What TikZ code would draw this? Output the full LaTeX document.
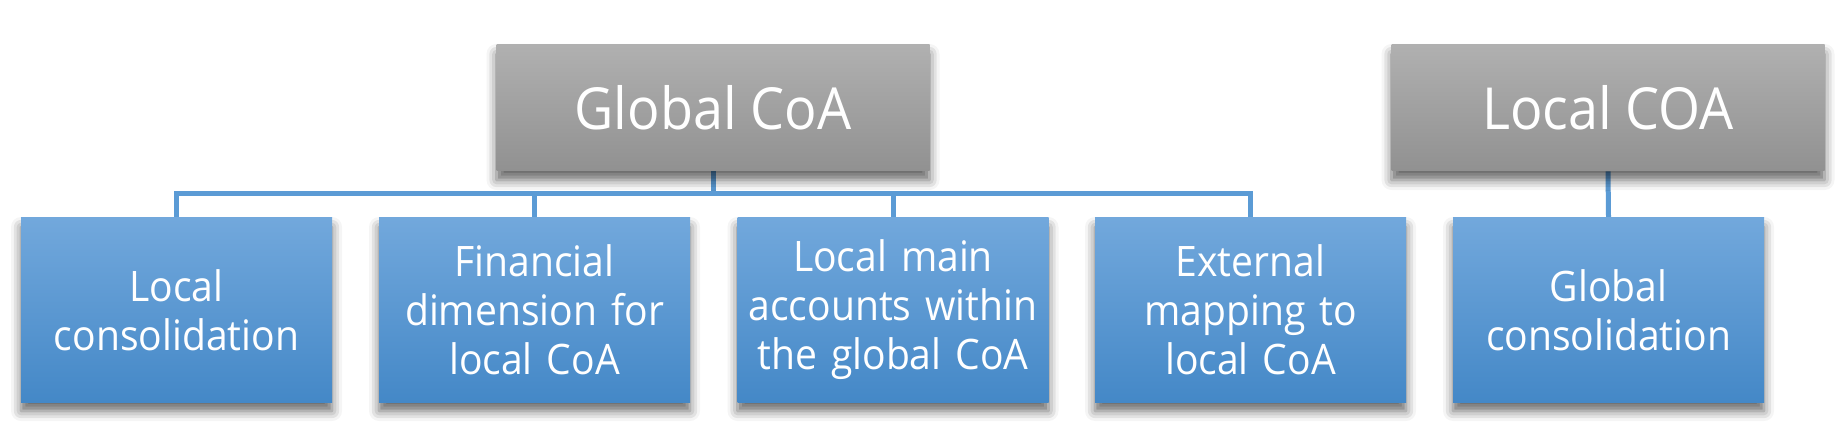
\documentclass[tikz,border=0pt]{standalone}
\usepackage{fontspec}
\setmainfont[FakeStretch=0.93]{Open Sans}
\usetikzlibrary{shadows.blur}
\definecolor{greytop}{RGB}{176,176,176}
\definecolor{greybot}{RGB}{145,145,145}
\definecolor{bluetop}{RGB}{114,168,220}
\definecolor{bluebot}{RGB}{68,136,199}
\definecolor{connblue}{RGB}{91,155,213}
\pgfdeclarelayer{background}
\pgfsetlayers{background,main}
\tikzset{
  myshadow/.style={blur shadow={shadow xshift=0pt, shadow yshift=-4.5pt, shadow blur radius=5pt, shadow opacity=60}},
  topbox/.style={rectangle, minimum width=216.5pt, minimum height=63pt,
    top color=greytop, bottom color=greybot, text=white,
    font=\fontsize{29}{34}\selectfont, inner sep=0pt, myshadow},
  childbox/.style={rectangle, minimum width=155.5pt, minimum height=92pt,
    top color=bluetop, bottom color=bluebot, text=white, align=center,
    font=\fontsize{21}{24.5}\selectfont, inner sep=0pt, text width=150pt, myshadow},
  conn/.style={draw=connblue, line width=2.5pt}
}
\begin{document}
\begin{tikzpicture}[x=0.5pt,y=-0.5pt]
\useasboundingbox (0,0) rectangle (1845,448);
\node[topbox] (g) at (713,108) {Global CoA};
\node[topbox] (l) at (1608,108) {Local COA};
\node[childbox] (c1) at (176.5,310) {Local\\consolidation};
\node[childbox] (c2) at (534.5,310) {Financial\\dimension for\\local CoA};
\node[childbox] (c3) at (893,310) {Local main\\accounts within\\the global CoA};
\node[childbox] (c4) at (1250.5,310) {External\\mapping to\\local CoA};
\node[childbox] (c5) at (1608.5,310) {Global\\consolidation};
\coordinate (bus) at (0,194);
\begin{pgfonlayer}{background}
\draw[conn] (c1.north) -- (c1.north |- bus) -- (c4.north |- bus) -- (c4.north);
\draw[conn] (c2.north) -- (c2.north |- bus);
\draw[conn] (c3.north) -- (c3.north |- bus);
\draw[conn] (g.south) -- (g.south |- bus);
\draw[conn] (l.south) -- (c5.north);
\end{pgfonlayer}
\end{tikzpicture}
\end{document}
